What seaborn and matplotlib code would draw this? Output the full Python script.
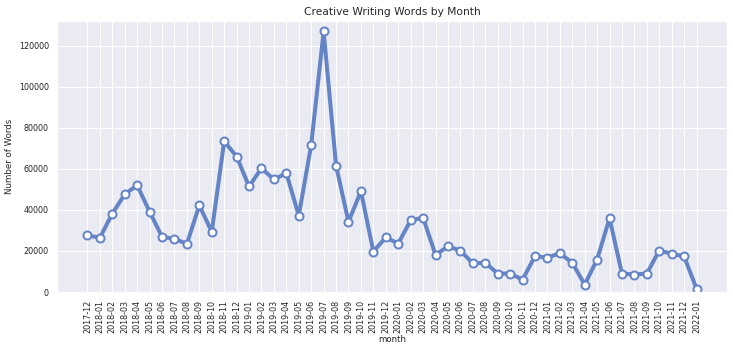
import matplotlib
matplotlib.use("Agg")
import matplotlib.pyplot as plt
import seaborn as sns
import pandas as pd

months = ["2017-12",
          "2018-01", "2018-02", "2018-03", "2018-04", "2018-05", "2018-06",
          "2018-07", "2018-08", "2018-09", "2018-10", "2018-11", "2018-12",
          "2019-01", "2019-02", "2019-03", "2019-04", "2019-05", "2019-06",
          "2019-07", "2019-08", "2019-09", "2019-10", "2019-11", "2019-12",
          "2020-01", "2020-02", "2020-03", "2020-04", "2020-05", "2020-06",
          "2020-07", "2020-08", "2020-09", "2020-10", "2020-11", "2020-12",
          "2021-01", "2021-02", "2021-03", "2021-04", "2021-05", "2021-06",
          "2021-07", "2021-08", "2021-09", "2021-10", "2021-11", "2021-12",
          "2022-01"]
words = [27600,
         26400, 38200, 47600, 52000, 39100, 26900,
         25900, 23500, 42200, 29300, 73400, 66000,
         51400, 60300, 54800, 57900, 37200, 71600,
         126900, 61600, 34200, 49100, 19700, 26600,
         23600, 34900, 36200, 18100, 22200, 20200,
         13900, 14300, 9000, 9000, 6000, 17400,
         16800, 18800, 14300, 3600, 15800, 35900,
         9000, 8500, 9000, 20200, 18600, 17300,
         1600]

df = pd.DataFrame({"month": months, "words": words})

sns.set_theme(style="darkgrid")
plt.rcParams["font.family"] = ["DejaVu Sans"]

fig = plt.figure(figsize=(733 / 72, 353 / 72), dpi=72)
ax = fig.add_axes([57 / 733, 1 - 292 / 353, 670 / 733, 271 / 353])

sns.lineplot(data=df, x="month", y="words", ax=ax, color="#6584c6",
             linewidth=4, marker="o", markersize=8,
             markerfacecolor="white", markeredgecolor="#6584c6",
             markeredgewidth=2)

ax.set_ylim(0, 132000)
ax.set_title("Creative Writing Words by Month", fontsize=10.6, color="#262626")
ax.set_xlabel("month", fontsize=8.6, labelpad=2)
ax.set_ylabel("Number of Words", fontsize=8.6, labelpad=5)
ax.tick_params(axis="x", labelrotation=90, labelsize=8, pad=2)
ax.tick_params(axis="y", labelsize=8, pad=2)

fig.savefig("out.png", dpi=72)
